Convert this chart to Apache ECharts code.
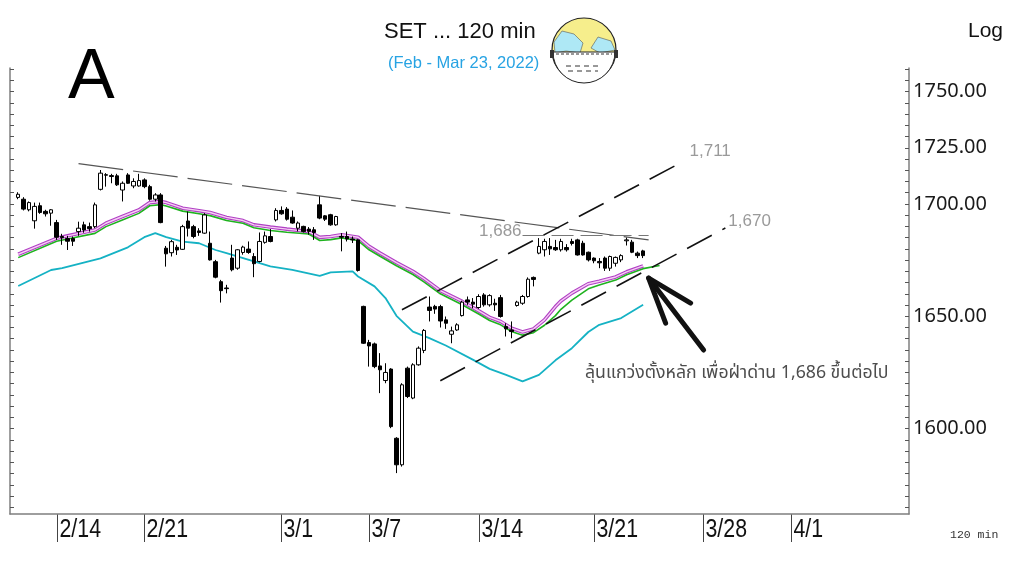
<!DOCTYPE html>
<html>
<head>
<meta charset="utf-8">
<script src="https://cdn.jsdelivr.net/npm/echarts@6/dist/echarts.min.js"></script>
<style>
html, body { margin: 0; padding: 0; background: #fff; }
#main { width: 1024px; height: 565px; }
</style>
</head>
<body>
<div id="main"></div>
<script>
// trading days on the axis, four 120-min bars each
var days = ["2/10", "2/11", "2/14", "2/15", "2/17", "2/18", "2/21", "2/22", "2/23", "2/24", "2/25", "2/28",
    "3/1", "3/2", "3/3", "3/4", "3/7", "3/8", "3/9", "3/10", "3/11", "3/14", "3/15", "3/16", "3/17", "3/18",
    "3/21", "3/22", "3/23", "3/24", "3/25", "3/28", "3/29", "3/30", "3/31", "4/1", "4/4", "4/5", "4/7", "4/8", "4/11"];
var barsPerDay = 4;
var firstBar = 1;   // first bar of 2/10 is not on the chart

var opens = [1702.9, 1702.1, 1697.4, 1692.5, 1699.2, 1696.7, 1695.9, 1691.7, 1685.5, 1684.6,
    1684.6, 1687.7, 1690.7, 1689.9, 1689.9, 1706.5, 1713.0, 1712.6, 1712.5, 1706.2,
    1712.9, 1708.0, 1708.0, 1710.7, 1707.7, 1702.1, 1704.0, 1680.3, 1678.3, 1680.7,
    1679.8, 1692.4, 1689.9, 1688.0, 1687.0, 1682.5, 1674.3, 1665.4, 1662.6, 1675.9,
    1671.4, 1678.4, 1679.9, 1676.6, 1674.4, 1682.9, 1685.5, 1692.9, 1697.1, 1697.7,
    1694.1, 1689.2, 1690.0, 1688.8, 1688.5, 1699.6, 1694.7, 1695.2, 1690.7, 1685.5,
    1685.5, 1684.4, 1684.0, 1654.4, 1638.3, 1637.7, 1627.9, 1621.4, 1626.5, 1595.7,
    1583.9, 1626.9, 1613.6, 1628.4, 1634.8, 1654.1, 1654.4, 1654.3, 1648.4, 1642.0,
    1643.9, 1650.3, 1657.3, 1656.3, 1653.9, 1659.5, 1655.1, 1655.8, 1658.3, 1645.4,
    1643.9, 1654.8, 1655.8, 1658.8, 1667.3, 1678.1, 1679.6, 1681.1, 1680.6, 1679.6,
    1680.6, 1683.3, 1684.0, 1682.5, 1678.5, 1675.9, 1674.4, 1675.9, 1671.4, 1673.6,
    1675.1, 1683.6, 1683.0, 1678.1, 1679.1];
var highs = [1705.2, 1703.0, 1701.1, 1700.6, 1700.6, 1697.4, 1697.7, 1692.9, 1686.7, 1685.8,
    1685.5, 1692.1, 1692.1, 1691.7, 1700.6, 1715.1, 1713.7, 1713.4, 1713.4, 1710.0,
    1713.7, 1711.4, 1713.4, 1711.4, 1708.5, 1704.8, 1704.8, 1681.3, 1684.0, 1681.8,
    1690.7, 1696.6, 1690.7, 1689.2, 1695.9, 1687.7, 1675.1, 1666.2, 1664.0, 1681.8,
    1679.9, 1681.4, 1683.3, 1678.1, 1687.3, 1687.7, 1688.8, 1698.1, 1698.9, 1698.6,
    1697.1, 1692.2, 1690.3, 1689.7, 1689.7, 1703.6, 1695.0, 1695.6, 1694.7, 1687.0,
    1687.7, 1685.5, 1684.3, 1654.7, 1639.5, 1638.3, 1633.6, 1629.1, 1626.9, 1596.2,
    1620.2, 1627.6, 1629.1, 1636.6, 1644.3, 1658.8, 1655.1, 1655.1, 1649.9, 1645.4,
    1646.9, 1656.9, 1658.8, 1658.1, 1659.8, 1660.3, 1659.8, 1657.8, 1659.5, 1646.9,
    1647.7, 1656.9, 1659.5, 1667.3, 1667.7, 1684.8, 1684.5, 1684.8, 1684.0, 1684.5,
    1682.1, 1684.5, 1684.5, 1683.6, 1678.8, 1676.2, 1675.9, 1676.6, 1677.0, 1676.6,
    1677.6, 1685.1, 1684.0, 1678.8, 1679.6];
var lows = [1702.1, 1697.1, 1696.7, 1689.0, 1695.6, 1694.4, 1690.3, 1684.0, 1681.8, 1679.5,
    1681.3, 1685.8, 1687.2, 1687.7, 1689.2, 1706.0, 1707.7, 1709.2, 1708.0, 1701.1,
    1708.9, 1707.0, 1707.7, 1707.0, 1701.5, 1701.1, 1691.4, 1672.1, 1676.6, 1677.3,
    1679.5, 1685.5, 1684.7, 1685.8, 1686.7, 1674.8, 1666.9, 1656.1, 1660.2, 1670.0,
    1670.7, 1677.4, 1677.8, 1667.4, 1674.0, 1682.3, 1682.9, 1692.2, 1695.2, 1692.6,
    1691.2, 1687.8, 1687.3, 1686.3, 1684.0, 1693.2, 1692.4, 1690.3, 1690.3, 1678.9,
    1683.3, 1682.6, 1669.9, 1637.7, 1627.6, 1626.9, 1615.8, 1620.2, 1600.2, 1580.2,
    1583.1, 1613.6, 1613.1, 1628.0, 1633.6, 1647.7, 1651.1, 1645.0, 1644.4, 1638.0,
    1643.5, 1649.9, 1655.1, 1653.6, 1653.3, 1654.3, 1654.3, 1652.4, 1649.4, 1641.0,
    1640.2, 1654.3, 1655.1, 1658.3, 1663.3, 1677.6, 1676.6, 1677.3, 1679.1, 1678.8,
    1678.8, 1681.5, 1677.0, 1677.0, 1674.4, 1673.6, 1671.4, 1670.2, 1670.2, 1672.1,
    1674.1, 1681.5, 1678.1, 1675.9, 1675.9];
var closes = [1704.3, 1697.7, 1700.6, 1698.9, 1696.2, 1695.6, 1697.4, 1685.2, 1685.0, 1683.4,
    1683.4, 1689.2, 1688.4, 1689.0, 1699.6, 1713.7, 1712.8, 1712.2, 1708.5, 1709.2,
    1709.2, 1710.0, 1710.4, 1707.7, 1702.1, 1704.0, 1691.7, 1677.8, 1683.2, 1679.5,
    1689.9, 1689.2, 1685.5, 1687.3, 1695.1, 1675.1, 1667.4, 1661.4, 1662.3, 1670.7,
    1679.6, 1680.8, 1678.4, 1673.4, 1683.3, 1685.8, 1683.3, 1697.1, 1695.6, 1693.2,
    1691.5, 1691.5, 1687.7, 1687.8, 1687.3, 1693.7, 1693.2, 1690.7, 1694.4, 1685.2,
    1684.4, 1684.0, 1670.4, 1638.0, 1636.8, 1627.6, 1626.2, 1625.0, 1600.9, 1583.9,
    1619.5, 1614.3, 1628.4, 1635.8, 1643.7, 1652.6, 1653.2, 1647.9, 1646.9, 1643.5,
    1646.2, 1656.3, 1656.3, 1655.4, 1658.8, 1655.1, 1659.2, 1655.1, 1649.9, 1644.4,
    1643.2, 1656.3, 1658.8, 1666.5, 1666.4, 1681.1, 1683.3, 1680.0, 1679.6, 1683.3,
    1679.6, 1682.4, 1677.3, 1677.3, 1675.1, 1674.7, 1673.8, 1671.4, 1676.6, 1676.2,
    1677.0, 1684.0, 1678.5, 1677.0, 1677.0];

// averages as [bar, value]
var maPink = [[1, 1677.6], [8, 1684.7], [10, 1685.8], [15, 1688.4], [17, 1691.4], [20, 1694.4], [23, 1697.3],
    [25, 1700.6], [27, 1701.1], [28, 1700.6], [31, 1698.1], [34, 1697.0], [36, 1696.2], [39, 1694.0], [42, 1692.6],
    [44, 1690.7], [47, 1689.7], [50, 1688.8], [54, 1687.7], [56, 1685.1], [58, 1685.5], [60, 1686.3], [63, 1685.2],
    [65, 1681.1], [67, 1678.1], [70, 1673.9], [73, 1670.0], [75, 1666.8], [78, 1661.4], [82, 1656.6], [85, 1652.4],
    [87, 1649.5], [89, 1647.7], [91, 1644.7], [93, 1643.0], [95, 1644.4], [97, 1648.4], [99, 1654.3], [100, 1656.8],
    [102, 1660.3], [105, 1664.5], [107, 1665.6], [110, 1667.5], [112, 1669.8], [115, 1672.4]];
var maGreen = [[1, 1676.1], [8, 1683.4], [10, 1684.4], [15, 1686.9], [17, 1689.9], [20, 1692.9], [23, 1695.8],
    [25, 1699.2], [27, 1699.7], [28, 1699.1], [31, 1696.8], [34, 1695.6], [36, 1694.8], [39, 1692.6], [42, 1691.4],
    [44, 1689.4], [47, 1688.2], [50, 1687.4], [54, 1686.6], [56, 1683.7], [58, 1684.1], [60, 1684.9], [63, 1683.7],
    [65, 1679.6], [67, 1676.7], [70, 1672.5], [73, 1668.6], [75, 1665.3], [78, 1660.0], [82, 1655.1], [85, 1651.0],
    [87, 1648.1], [89, 1646.2], [91, 1643.2], [93, 1641.6], [95, 1642.7], [97, 1646.0], [99, 1650.3], [100, 1653.1],
    [102, 1657.2], [105, 1662.2], [107, 1663.9], [110, 1666.1], [112, 1668.5], [115, 1671.2], [118, 1672.6]];
var maCyan = [[1, 1663.5], [7, 1670.6], [9, 1671.4], [16, 1675.8], [21, 1680.7], [24, 1685.2], [26, 1687.0],
    [28, 1685.2], [31, 1683.2], [34, 1682.5], [37, 1679.5], [39, 1678.1], [44, 1674.4], [47, 1672.2], [51, 1670.7],
    [56, 1668.0], [58, 1669.5], [62, 1670.0], [63, 1667.7], [66, 1663.3], [68, 1658.1], [70, 1650.2], [73, 1643.2],
    [76, 1640.3], [79, 1637.0], [84, 1630.6], [87, 1626.6], [90, 1623.9], [93, 1621.0], [96, 1623.9], [99, 1630.4],
    [102, 1635.8], [105, 1643.0], [107, 1646.2], [111, 1649.2], [115, 1655.1]];

// hand drawn lines on the chart, [bar, value] at both ends
var trendDown = [[12, 1717.9], [116, 1684.0]];
var channelTop = [[71, 1652.9], [122, 1718.5]];
var channelBottom = [[78, 1621.3], [130, 1689.3]];
var resist = [[93, 1686], [116, 1686]];
var levelTexts = ["1,711", "1,670", "1,686"];
var note = "ลุ้นแกว่งตั้งหลัก เพื่อฝ่าด่าน 1,686 ขึ้นต่อไป";

var tickLabels = ["2/14", "2/21", "3/1", "3/7", "3/14", "3/21", "3/28", "4/1"];
var tickBar = [0, 0, 1, 1, 1, 2, 2, 2];   // bar of the day that carries the tick
var yLabels = [1600, 1650, 1700, 1725, 1750];
var yMin = 1562, yMax = 1760.5;

var categories = [];
for (var d = 0; d < days.length; d++) {
    for (var b = 0; b < barsPerDay; b++) {
        categories.push(days[d] + " " + (b + 1));
    }
}
var candles = [];
for (var i = 0; i < categories.length; i++) {
    var j = i - firstBar;
    if (j >= 0 && j < opens.length) {
        candles.push([opens[j], closes[j], lows[j], highs[j]]);
    } else {
        candles.push("-");
    }
}
var yTicks = [];
for (var v = 1565; v <= 1760; v += 5) yTicks.push(v);

function drawn(pts, color, width, dash) {
    return [{coord: pts[0], lineStyle: {color: color, width: width, type: dash}}, {coord: pts[1]}];
}

var myChart = echarts.init(document.getElementById("main"));
myChart.setOption({
    animation: false,
    backgroundColor: "#fff",
    grid: {left: 10, right: 115, top: 68, bottom: 51, containLabel: false, outerBoundsMode: "none"},
    xAxis: {
        type: "category",
        data: categories,
        boundaryGap: true,
        axisLine: {lineStyle: {color: "#7f7f7f", width: 1.5}},
        axisTick: {show: false},
        axisLabel: {show: false},   // day labels are drawn below, condensed like the original
        splitLine: {show: false}
    },
    yAxis: [{
        type: "value",
        position: "right",
        min: yMin,
        max: yMax,
        axisLine: {show: true, lineStyle: {color: "#7f7f7f", width: 1.5}},
        axisTick: {show: true, inside: true, length: 4, customValues: yTicks, lineStyle: {color: "#555"}},
        axisLabel: {
            customValues: yLabels,
            formatter: function(v){ return v.toFixed(2); },
            fontFamily: "'Noto Sans'",
            fontSize: 20,
            color: "#1a1a1a",
            margin: 4
        },
        splitLine: {show: false}
    }, {
        type: "value",
        position: "left",
        min: yMin,
        max: yMax,
        axisLine: {show: true, lineStyle: {color: "#7f7f7f", width: 1.5}},
        axisTick: {show: true, inside: true, length: 4, customValues: yTicks, lineStyle: {color: "#555"}},
        axisLabel: {show: false},
        splitLine: {show: false}
    }],
    series: [
        {type: "line", data: maCyan, symbol: "none", z: 2, lineStyle: {color: "#15b2c4", width: 1.8}},
        {type: "line", data: maPink, symbol: "none", z: 2, lineStyle: {color: "#b040c4", width: 3.6}},
        {type: "line", data: maPink, symbol: "none", z: 2, lineStyle: {color: "#f7cdf5", width: 1.4}},
        {type: "line", data: maGreen, symbol: "none", z: 2, lineStyle: {color: "#1fb21f", width: 1.6}},
        {
            type: "candlestick",
            data: candles,
            barWidth: 4,
            z: 3,
            itemStyle: {color: "#fff", color0: "#000", borderColor: "#000", borderColor0: "#000", borderWidth: 1},
            markLine: {
                silent: true,
                symbol: ["none", "none"],
                label: {show: false},
                data: [
                    drawn(trendDown, "#555", 1.2, [45, 10]),
                    drawn(channelTop, "#111", 1.6, [28, 12]),
                    drawn(channelBottom, "#111", 1.6, [28, 12]),
                    drawn(resist, "#777", 1.2, [22, 7])
                ]
            }
        }
    ]
});

// annotations placed from data points
function px(p){ return myChart.convertToPixel({seriesIndex: 4}, p); }
var topEnd = px(channelTop[1]);
var botEnd = px(channelBottom[1]);
var resStart = px(resist[0]);
var tip = px([116, 1667]);
var axisY = px([0, yMin])[1];
var levelFont = {fontSize: 17, fontFamily: "'Liberation Sans', Arial", fill: "#9a9a9a"};

var graphics = [
    {type: "text", left: 68, top: 44, style: {text: "A", fontSize: 70, fontFamily: "'Liberation Sans', Arial", fill: "#000"}},
    {type: "text", left: 384, top: 21, style: {text: "SET ... 120 min", fontSize: 22, fontFamily: "'Liberation Sans', Arial", fill: "#111"}},
    {type: "text", left: 388, top: 55, style: {text: "(Feb - Mar 23, 2022)", fontSize: 16.5, fontFamily: "'Liberation Sans', Arial", fill: "#27a3e3"}},
    {type: "text", left: 968, top: 21, style: {text: "Log", fontSize: 21, fontFamily: "'Liberation Sans', Arial", fill: "#111"}},
    {type: "text", left: 950, top: 529, style: {text: "120 min", fontSize: 11.5, fontFamily: "'Liberation Mono', monospace", fill: "#333"}},
    {type: "text", x: topEnd[0] + 8, y: topEnd[1] - 11, style: Object.assign({text: levelTexts[0], align: "left", verticalAlign: "middle"}, levelFont)},
    {type: "text", x: botEnd[0] + 3, y: botEnd[1] - 7, style: Object.assign({text: levelTexts[1], align: "left", verticalAlign: "middle"}, levelFont)},
    {type: "text", x: resStart[0] - 1, y: resStart[1] - 4, style: Object.assign({text: levelTexts[2], align: "right", verticalAlign: "middle"}, levelFont)},
    {type: "text", left: 585, top: 365, style: {text: note, fontSize: 17.7, fontFamily: "'Noto Sans Thai', 'Noto Sans', 'DejaVu Sans', sans-serif", fill: "#4d4d4d"}},
    // arrow pointing at the end of the averages
    {type: "polyline", shape: {points: [[tip[0] + 55, tip[1] + 72], tip]}, style: {stroke: "#111", lineWidth: 5, lineCap: "round"}},
    {type: "polyline", shape: {points: [[tip[0] + 17, tip[1] + 45], tip, [tip[0] + 42, tip[1] + 25]]}, style: {stroke: "#111", lineWidth: 5, lineCap: "round", lineJoin: "round", fill: null}},
    // globe with a face mask
    {type: "group", x: 584, y: 50, children: [
        {type: "circle", shape: {cx: 0, cy: 0, r: 32}, style: {fill: "#f6ee8c", stroke: "#222", lineWidth: 1.2}},
        {type: "polygon", shape: {points: [[-30, -8], [-22, -19], [-10, -16], [-1, -7], [-4, 3], [-18, 1], [-29, 3]]}, style: {fill: "#aee8f5", stroke: "#555", lineWidth: 0.6}},
        {type: "polygon", shape: {points: [[7, -2], [14, -13], [27, -9], [31, 0], [16, 3]]}, style: {fill: "#aee8f5", stroke: "#555", lineWidth: 0.6}},
        {type: "sector", shape: {cx: 0, cy: 2, r0: 0, r: 31, startAngle: 0, endAngle: Math.PI}, style: {fill: "#fff", stroke: "#222", lineWidth: 1}},
        {type: "line", shape: {x1: -28, y1: 4, x2: 28, y2: 4}, style: {stroke: "#333", lineWidth: 1, lineDash: [3, 2]}},
        {type: "line", shape: {x1: -18, y1: 16, x2: 16, y2: 16}, style: {stroke: "#333", lineWidth: 1, lineDash: [5, 4]}},
        {type: "line", shape: {x1: -16, y1: 21, x2: 14, y2: 21}, style: {stroke: "#333", lineWidth: 1, lineDash: [5, 4]}},
        {type: "rect", shape: {x: -34, y: 0, width: 4, height: 8}, style: {fill: "#333"}},
        {type: "rect", shape: {x: 30, y: 0, width: 4, height: 8}, style: {fill: "#333"}}
    ]}
];

// day ticks below the axis with condensed labels
for (var t = 0; t < tickLabels.length; t++) {
    var idx = days.indexOf(tickLabels[t]) * barsPerDay + tickBar[t];
    var tx = Math.round(px([idx, yMin])[0]) + 0.5;
    graphics.push({type: "line", shape: {x1: tx, y1: axisY, x2: tx, y2: axisY + 28}, style: {stroke: "#444", lineWidth: 1}});
    graphics.push({type: "text", x: tx + 2, y: axisY + 3, scaleX: 0.82,
        style: {text: tickLabels[t], fontSize: 26, fontFamily: "'Liberation Sans', Arial", fill: "#111", align: "left", verticalAlign: "top"}});
}

myChart.setOption({graphic: graphics});
</script>
</body>
</html>
